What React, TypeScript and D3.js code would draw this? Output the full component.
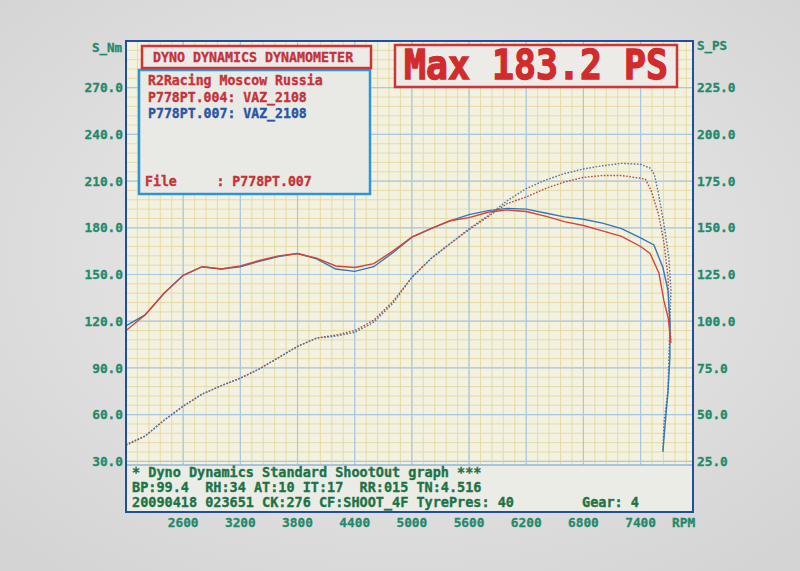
import * as d3 from "d3";

const W = 800;
const H = 571;

// sweep (every 200 rpm)
const sweepRpm = [
  2000, 2200, 2400, 2600, 2800, 3000, 3200, 3400, 3600, 3800, 4000, 4200, 4400, 4600,
  4800, 5000, 5200, 5400, 5600, 5800, 6000, 6200, 6400, 6600, 6800, 7000, 7200, 7400,
];
const torqueRed = [
  114, 124, 138, 149.5, 155, 153.5, 155.5, 159, 162, 163.5, 160.5, 155.5, 154.5, 157,
  165, 174, 179.5, 184.5, 186.5, 190, 191.5, 190.5, 187.5, 184, 181.5, 178, 174.5, 168,
];
const torqueBlue = [
  117, 124, 138, 149.5, 155, 153.5, 155, 158.5, 161.5, 163.5, 160, 153.5, 152, 155,
  164, 174, 179.5, 184.5, 188.5, 191, 192.5, 192, 189.5, 187, 185.5, 183, 179.5, 173.5,
];
const powerRed = [
  33.5, 38.5, 47, 54.5, 61, 65.5, 69.5, 74.5, 80.5, 86.5, 91, 92.5, 95, 100.5,
  110.5, 123.5, 133.5, 141.5, 149, 156, 163, 166.5, 171, 174.5, 177, 178, 178, 176.5,
];
const powerBlue = [
  34, 38.5, 47, 54.5, 61, 65.5, 69.5, 74.5, 80.5, 86.5, 91, 92, 94, 99.5,
  109.5, 123.5, 133.5, 141.5, 149.5, 156.5, 164.5, 171, 175.5, 179, 181.5, 183.2, 184.5, 184,
];

// run-down tails (throttle off near max rpm)
const tailTorqueRedRpm = [7500, 7592, 7645, 7690, 7718];
const tailTorqueRed = [163.5, 151, 133, 122, 106];
const tailTorqueBlueRpm = [7540, 7634, 7687, 7708, 7708, 7687, 7655, 7634];
const tailTorqueBlue = [169, 154.5, 140, 119, 97, 74, 52, 36];
const tailPowerRedRpm = [7450, 7510, 7590, 7645, 7687, 7700, 7718];
const tailPowerRed = [176, 170, 157, 142, 124, 105, 90];
const tailPowerBlueRpm = [7500, 7545, 7581, 7645, 7697, 7718, 7708, 7697, 7687, 7645, 7634];
const tailPowerBlue = [182, 178.5, 170, 152, 134, 116.5, 99, 81, 63, 45, 31];

const nmTicks = [30, 60, 90, 120, 150, 180, 210, 240, 270];
const psTicks = [25, 50, 75, 100, 125, 150, 175, 200, 225];
const rpmTicks = [2600, 3200, 3800, 4400, 5000, 5600, 6200, 6800, 7400];

const legendLines = [
  { text: "R2Racing Moscow Russia", color: "#c4333a" },
  { text: "P778PT.004: VAZ_2108", color: "#c4333a" },
  { text: "P778PT.007: VAZ_2108", color: "#2a55a5" },
];
const footerLines = [
  "* Dyno Dynamics Standard ShootOut graph ***",
  "BP:99.4  RH:34 AT:10 IT:17  RR:015 TN:4.516",
  "20090418 023651 CK:276 CF:SHOOT_4F TyrePres: 40",
];

const MONO = "'DejaVu Sans Mono', 'Liberation Mono', monospace";
const TEAL = "#23896b";
const RED = "#d2453a";
const BLUE = "#3577b5";
const FRAME = "#1f4f9e";

const left = 126;
const right = 693;
const top = 41;
const boxTop = 465;
const boxBottom = 512;

// bold bitmap-ish look: fill + thin stroke of the same colour
const heavy = (color: string, w = 0.35) => ({
  fontFamily: MONO,
  fontWeight: "bold" as const,
  fill: color,
  stroke: color,
  strokeWidth: w,
  style: { whiteSpace: "pre" as const },
});

export default function App() {
  const x = d3.scaleLinear().domain([2000, 7950]).range([left, right]);
  const yNm = d3.scaleLinear().domain([0, 300]).range([508, top]);
  const yPs = d3.scaleLinear().domain([0, 250]).range([508, top]);

  const nmLine = d3
    .line<[number, number]>()
    .x((d) => x(d[0]))
    .y((d) => yNm(d[1]));
  const psLine = d3
    .line<[number, number]>()
    .x((d) => x(d[0]))
    .y((d) => yPs(d[1]));

  const join = (rpm: number[], vals: number[], tr: number[], tv: number[]) => [
    ...rpm.map((r, i) => [r, vals[i]] as [number, number]),
    ...tr.map((r, i) => [r, tv[i]] as [number, number]),
  ];

  const minorX = d3.range(2000, 7950, 120);
  const majorX = d3.range(2600, 7950, 600);
  const minorY = d3.range(0, 300, 6);
  const majorY = d3.range(30, 301, 30);

  const fmt = d3.format(".1f");

  return (
    <div style={{ position: "absolute", left: 0, top: 0 }}>
      <svg width={W} height={H} style={{ display: "block" }}>
        <defs>
          <radialGradient id="paper" cx="50%" cy="45%" r="70%">
            <stop offset="0%" stopColor="#ededed" />
            <stop offset="100%" stopColor="#d4d4d4" />
          </radialGradient>
          <clipPath id="plotClip">
            <rect x={left} y={top} width={right - left} height={boxTop - top} />
          </clipPath>
        </defs>
        <rect width={W} height={H} fill="url(#paper)" />

        {/* plot paper + grid */}
        <rect x={left} y={top} width={right - left} height={boxTop - top} fill="#f3f1df" />
        <g clipPath="url(#plotClip)">
          {minorX.map((v) => (
            <line key={`mx${v}`} x1={x(v)} x2={x(v)} y1={top} y2={boxTop} stroke="#e4d9a2" strokeWidth={0.9} />
          ))}
          {minorY.map((v) => (
            <line key={`my${v}`} x1={left} x2={right} y1={yNm(v)} y2={yNm(v)} stroke="#e4d9a2" strokeWidth={0.9} />
          ))}
          {majorX.map((v) => (
            <line key={`Mx${v}`} x1={x(v)} x2={x(v)} y1={top} y2={boxTop} stroke="#a9c7e0" strokeWidth={1.2} />
          ))}
          {majorY.map((v) => (
            <line key={`My${v}`} x1={left} x2={right} y1={yNm(v)} y2={yNm(v)} stroke="#a9c7e0" strokeWidth={1.2} />
          ))}

          {/* power (dotted) */}
          <path
            d={psLine(join(sweepRpm, powerRed, tailPowerRedRpm, tailPowerRed)) ?? ""}
            fill="none"
            stroke="#b8483e"
            strokeWidth={1.4}
            strokeDasharray="1.6,1.6"
          />
          <path
            d={psLine(join(sweepRpm, powerBlue, tailPowerBlueRpm, tailPowerBlue)) ?? ""}
            fill="none"
            stroke="#4d76a6"
            strokeWidth={1.4}
            strokeDasharray="1.6,1.6"
          />
          {/* torque (solid) */}
          <path
            d={nmLine(join(sweepRpm, torqueBlue, tailTorqueBlueRpm, tailTorqueBlue)) ?? ""}
            fill="none"
            stroke={BLUE}
            strokeWidth={1.4}
          />
          <path
            d={nmLine(join(sweepRpm, torqueRed, tailTorqueRedRpm, tailTorqueRed)) ?? ""}
            fill="none"
            stroke={RED}
            strokeWidth={1.4}
          />
        </g>

        {/* footer box */}
        <rect x={left} y={boxTop} width={right - left} height={boxBottom - boxTop} fill="#ebece6" />
        <line x1={left} x2={right} y1={boxTop} y2={boxTop} stroke="#8fb6da" strokeWidth={1.5} />
        {footerLines.map((t, i) => (
          <text key={t} x={132} y={477 + i * 15} fontSize={13.5} {...heavy("#1d7346")}>
            {t}
          </text>
        ))}
        <text x={582} y={507} fontSize={13.5} {...heavy("#1d7346")}>
          Gear: 4
        </text>

        {/* frame */}
        <rect x={left} y={top} width={right - left} height={boxBottom - top} fill="none" stroke={FRAME} strokeWidth={2} />

        {/* legend */}
        <rect x={139} y={70} width={231} height={124} fill="#e9e9e6" stroke="#2d96d2" strokeWidth={2.5} />
        <rect x={142} y={46} width={229} height={22} fill="#ecebe8" stroke="#cf3535" strokeWidth={2.5} />
        <text x={153} y={62} fontSize={13.3} {...heavy("#c4333a")}>
          DYNO DYNAMICS DYNAMOMETER
        </text>
        {legendLines.map((l, i) => (
          <text key={l.text} x={148} y={85 + i * 16.5} fontSize={13.2} {...heavy(l.color)}>
            {l.text}
          </text>
        ))}
        <text x={145} y={186} fontSize={13.2} {...heavy("#c4333a")}>
          {"File     : P778PT.007"}
        </text>

        {/* max box */}
        <rect x={395} y={45} width={282} height={42} fill="#ecebe8" stroke="#cf3535" strokeWidth={2.5} />
        <text
          x={404}
          y={79}
          fontSize={40}
          textLength={264}
          lengthAdjust="spacingAndGlyphs"
          {...heavy("#d12b2b", 1.3)}
        >
          Max 183.2 PS
        </text>

        {/* axes labels */}
        <text x={92} y={52} fontSize={12.5} {...heavy(TEAL, 0.3)}>
          S_Nm
        </text>
        <text x={697} y={50} fontSize={12.5} {...heavy(TEAL, 0.3)}>
          S_PS
        </text>
        {nmTicks.map((v) => (
          <text key={`nm${v}`} x={left - 3} y={yNm(v)} dy="0.36em" textAnchor="end" fontSize={12.8} {...heavy(TEAL, 0.3)}>
            {fmt(v)}
          </text>
        ))}
        {psTicks.map((v) => (
          <text key={`ps${v}`} x={right + 4} y={yPs(v)} dy="0.36em" fontSize={12.8} {...heavy(TEAL, 0.3)}>
            {fmt(v)}
          </text>
        ))}
        {rpmTicks.map((v) => (
          <text key={`rpm${v}`} x={x(v)} y={527} textAnchor="middle" fontSize={12.8} {...heavy(TEAL, 0.3)}>
            {v}
          </text>
        ))}
        <text x={672} y={527} fontSize={12.8} {...heavy(TEAL, 0.3)}>
          RPM
        </text>
      </svg>
    </div>
  );
}
